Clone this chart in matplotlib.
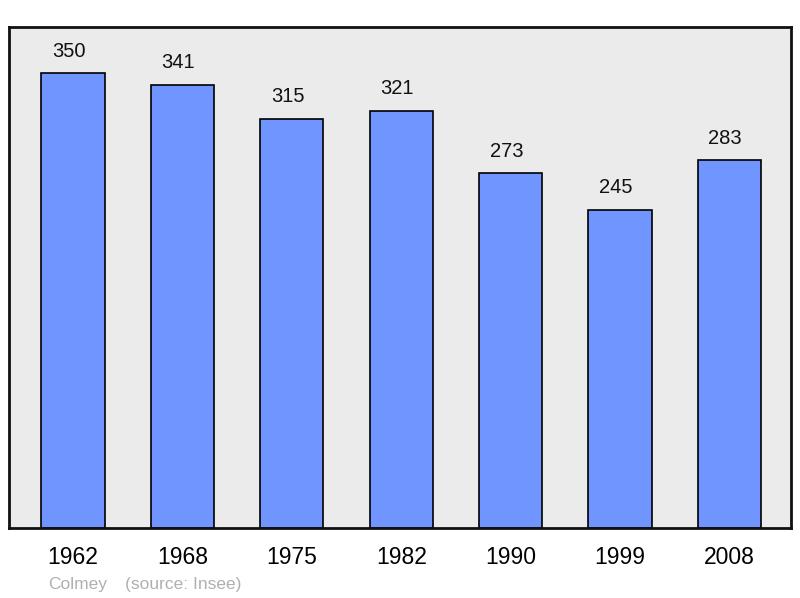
import matplotlib
matplotlib.use("Agg")
import matplotlib.pyplot as plt

years = ["1962", "1968", "1975", "1982", "1990", "1999", "2008"]
population = [350, 341, 315, 321, 273, 245, 283]

plt.rcParams['font.family'] = ['Liberation Sans', 'DejaVu Sans']

fig = plt.figure(figsize=(8, 5.98), dpi=100)
ax = fig.add_axes([9/800, 70/598, 782/800, 501/598])
ax.set_facecolor('#ebebeb')
x = list(range(len(years)))
ax.bar(x, population, width=0.576, color='#7095ff', edgecolor='black', linewidth=1.2, zorder=2)
ax.set_xlim(-0.585, 6.563)
ax.set_ylim(0, 385.4)
for xi, v in zip(x, population):
    ax.annotate(str(v), (xi, v), xytext=(-3, 9), textcoords='offset points',
                ha='center', va='bottom', fontsize=14.5, color='#111111')
ax.set_xticks(x)
ax.set_xticklabels(years, fontsize=16.5)
ax.tick_params(axis='x', length=0, pad=13)
ax.set_yticks([])
for s in ax.spines.values():
    s.set_linewidth(2)
    s.set_color('#111111')
fig.text(78/800, 1 - 585/598, "Colmey", ha='center', va='center', fontsize=12.5, color='#b0b0b0')
fig.text(183/800, 1 - 585/598, "(source: Insee)", ha='center', va='center', fontsize=12.5, color='#b0b0b0')
fig.savefig("out.png", dpi=100)
